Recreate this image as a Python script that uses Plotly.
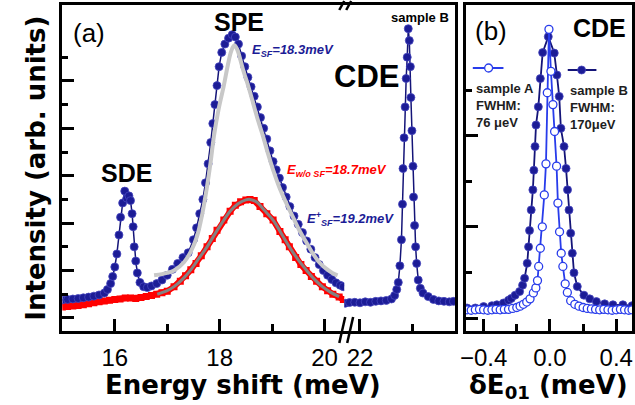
import plotly.graph_objects as go

# ---------------- data: panel (a), left segment ----------------
blue_x = [15.00, 15.10, 15.20, 15.30, 15.40, 15.50, 15.60, 15.70, 15.80, 15.86,
          15.92, 15.96, 16.00, 16.04, 16.08, 16.11, 16.15, 16.19, 16.23, 16.27,
          16.30, 16.33, 16.35, 16.37, 16.40, 16.43, 16.48, 16.55, 16.62, 16.70,
          16.80, 16.90, 17.00, 17.10, 17.20, 17.30, 17.40, 17.50, 17.56, 17.62,
          17.68, 17.73, 17.78, 17.83, 17.87, 17.91, 17.95, 17.99, 18.04, 18.10,
          18.17, 18.24, 18.30, 18.36, 18.42, 18.48, 18.54, 18.60, 18.66, 18.72,
          18.78, 18.84, 18.90, 18.96, 19.02, 19.08, 19.14, 19.20, 19.27, 19.34,
          19.42, 19.50, 19.58, 19.66, 19.74, 19.82, 19.90, 19.98, 20.06, 20.14,
          20.22, 20.30, 20.36]
blue_y = [0.76, 0.78, 0.80, 0.82, 0.85, 0.88, 0.92, 0.97, 1.05, 1.20,
          1.45, 1.75, 2.15, 2.70, 3.50, 4.25, 4.85, 5.35, 5.05, 5.15,
          4.95, 4.40, 3.85, 3.00, 2.40, 1.90, 1.50, 1.32, 1.28, 1.35,
          1.45, 1.60, 1.80, 2.05, 2.30, 2.55, 2.75, 3.30, 3.80, 4.40,
          5.00, 5.70, 6.50, 7.40, 8.20, 9.00, 9.80, 10.60, 11.20, 11.55,
          11.80, 11.95, 11.85, 11.55, 11.05, 10.60, 10.15, 9.75, 9.35, 8.90,
          8.45, 8.00, 7.55, 7.05, 6.60, 6.25, 5.90, 5.50, 5.10, 4.70,
          4.30, 3.95, 3.60, 3.25, 2.90, 2.55, 2.25, 2.00, 1.80, 1.62,
          1.48, 1.38, 1.32]

blue_fit_x = [16.75, 16.90, 17.00, 17.13, 17.32, 17.45, 17.57, 17.67, 17.76, 17.83,
              17.89, 17.98, 18.08, 18.16, 18.22, 18.28, 18.34, 18.40, 18.45, 18.55,
              18.64, 18.73, 18.83, 18.92, 19.02, 19.14, 19.27, 19.40, 19.52, 19.65,
              19.77, 19.90, 20.02, 20.15, 20.25]
blue_fit_y = [1.80, 1.85, 1.90, 2.00, 2.35, 2.80, 3.45, 4.40, 5.55, 6.60,
              7.65, 8.80, 9.80, 10.70, 11.25, 11.50, 11.30, 10.85, 10.45, 9.75,
              9.05, 8.35, 7.65, 6.95, 6.25, 5.50, 4.85, 4.25, 3.70, 3.20,
              2.75, 2.35, 2.10, 1.90, 1.80]

red_x = [15.00, 15.10, 15.20, 15.30, 15.40, 15.50, 15.60, 15.70, 15.80, 15.90,
         16.00, 16.10, 16.20, 16.30, 16.40, 16.50, 16.60, 16.70, 16.80, 16.90,
         17.00, 17.13, 17.25, 17.35, 17.45, 17.55, 17.65, 17.76, 17.86, 17.95,
         18.08, 18.20, 18.30, 18.40, 18.50, 18.58, 18.66, 18.77, 18.90, 19.02,
         19.15, 19.25, 19.33, 19.45, 19.55, 19.65, 19.75, 19.85, 19.96, 20.06,
         20.16, 20.28, 20.36]
red_y = [0.46, 0.48, 0.50, 0.53, 0.56, 0.60, 0.64, 0.68, 0.72, 0.75,
         0.78, 0.80, 0.84, 0.84, 0.82, 0.86, 0.90, 0.95, 1.00, 1.06,
         1.13, 1.32, 1.55, 1.78, 2.03, 2.30, 2.62, 3.00, 3.35, 3.70,
         4.13, 4.50, 4.75, 4.90, 4.98, 5.00, 4.95, 4.70, 4.40, 4.13,
         3.65, 3.30, 3.00, 2.55, 2.25, 2.00, 1.75, 1.55, 1.32, 1.15,
         1.00, 0.88, 0.78]

red_fit_x = [16.81, 17.00, 17.13, 17.30, 17.45, 17.60, 17.76, 17.92, 18.08, 18.20,
             18.35, 18.50, 18.58, 18.70, 18.85, 19.02, 19.18, 19.33, 19.50, 19.65,
             19.80, 19.96, 20.12, 20.28]
red_fit_y = [1.00, 1.15, 1.32, 1.65, 2.03, 2.50, 3.00, 3.58, 4.13, 4.50,
             4.82, 4.98, 5.00, 4.90, 4.55, 4.13, 3.55, 3.00, 2.45, 2.03,
             1.65, 1.32, 1.08, 0.90]

# ---------------- data: panel (a), right segment (CDE, sample B) ----------------
cde_x = [21.72, 21.80, 21.90, 22.00, 22.10, 22.20, 22.30, 22.40, 22.50, 22.60,
         22.66, 22.70, 22.73, 22.76, 22.79, 22.81, 22.82, 22.84, 22.86, 22.88,
         22.90, 22.92, 22.94, 22.96, 22.97, 22.99, 23.01, 23.02, 23.04, 23.06,
         23.08, 23.11, 23.15, 23.20, 23.30, 23.40, 23.50, 23.60, 23.70, 23.78]
cde_y = [0.62, 0.65, 0.66, 0.64, 0.68, 0.66, 0.70, 0.72, 0.74, 0.80,
         0.95, 1.20, 1.50, 2.20, 3.30, 4.80, 6.30, 7.60, 8.90, 10.10,
         11.00, 12.20, 11.70, 10.60, 9.30, 7.90, 6.40, 5.10, 3.90, 3.00,
         2.30, 1.60, 1.25, 1.05, 0.90, 0.78, 0.72, 0.70, 0.68, 0.70]

# ---------------- data: panel (b) ----------------
a_x = [-0.500, -0.475, -0.450, -0.425, -0.400, -0.375, -0.350, -0.325, -0.300, -0.275,
       -0.250, -0.225, -0.200, -0.180, -0.160, -0.140, -0.120, -0.100, -0.085, -0.075,
       -0.068, -0.058, -0.046, -0.034, -0.024, -0.016, -0.006, 0.006, 0.018, 0.028,
       0.040, 0.048, 0.058, 0.068, 0.078, 0.092, 0.105, 0.125, 0.150, 0.175,
       0.200, 0.225, 0.250, 0.275, 0.300, 0.325, 0.350, 0.375, 0.400, 0.425,
       0.450, 0.475, 0.495]
a_y = [0.18, 0.17, 0.18, 0.19, 0.18, 0.17, 0.18, 0.19, 0.18, 0.19,
       0.19, 0.21, 0.23, 0.26, 0.30, 0.35, 0.42, 0.55, 0.66, 0.82,
       1.13, 1.53, 2.00, 2.70, 3.38, 4.94, 6.33, 5.41, 4.68, 4.09,
       3.33, 2.52, 1.89, 1.42, 1.13, 0.75, 0.56, 0.38, 0.30, 0.26,
       0.23, 0.21, 0.20, 0.19, 0.18, 0.19, 0.18, 0.17, 0.18, 0.19,
       0.18, 0.17, 0.18]

b_x = [-0.500, -0.450, -0.400, -0.350, -0.320, -0.280, -0.250, -0.233, -0.210, -0.183,
       -0.165, -0.153, -0.137, -0.129, -0.123, -0.113, -0.103, -0.097, -0.090, -0.084,
       -0.070, -0.058, -0.044, -0.010, 0.026, 0.042, 0.056, 0.066, 0.085, 0.097,
       0.106, 0.115, 0.125, 0.135, 0.145, 0.165, 0.205, 0.240, 0.280, 0.330,
       0.380, 0.440, 0.495]
b_y = [0.22, 0.22, 0.25, 0.27, 0.29, 0.33, 0.39, 0.43, 0.50, 0.58,
       0.72, 0.87, 1.20, 1.56, 1.92, 2.37, 2.81, 3.24, 3.76, 4.23,
       4.63, 5.25, 5.82, 6.17, 5.81, 5.33, 4.86, 4.16, 3.76, 3.28,
       2.81, 2.37, 1.86, 1.42, 0.99, 0.69, 0.50, 0.42, 0.36, 0.31,
       0.29, 0.29, 0.27]

# tick values
a_left_major = [16, 18, 20]
a_left_minor = [17, 19]
a_right_major = [22]
a_right_minor = [23]
a_y_major = [0, 2, 4, 6, 8, 10]
a_y_minor = [1, 3, 5, 7, 9, 11]
b_x_major = [-0.4, 0.0, 0.4]
b_x_labels = ["\u22120.4", "0.0", "0.4"]
b_x_minor = [-0.2, 0.2]
b_y_major = [0, 2, 4]
b_y_minor = [1, 3, 5]

# ---------------- styling ----------------
W, H = 635, 405
NAVY = "rgb(28,28,150)"
NAVY_LINE = "rgb(20,20,120)"
BLUE_A = "rgb(40,60,235)"
RED = "rgb(255,0,0)"
TICKFONT = dict(family="Liberation Sans, Arial", size=24, color="black")


def px(v):
    return v / W


def py(v):
    return 1 - v / H


fig = go.Figure()

blue_style = dict(mode="lines+markers",
                  line=dict(color=NAVY_LINE, width=1.5),
                  marker=dict(size=8, color=NAVY, line=dict(color="rgb(70,70,190)", width=0.8)),
                  showlegend=False, hoverinfo="skip")

# panel (a) left segment
fig.add_trace(go.Scatter(x=red_x, y=red_y, xaxis="x", yaxis="y", mode="lines+markers",
                         line=dict(color=RED, width=6), marker=dict(size=7, color=RED, symbol="square"),
                         showlegend=False))
fig.add_trace(go.Scatter(x=red_fit_x, y=red_fit_y, xaxis="x", yaxis="y", mode="lines",
                         line=dict(color="rgb(130,130,130)", width=3), line_shape="spline",
                         showlegend=False))
fig.add_trace(go.Scatter(x=blue_x, y=blue_y, xaxis="x", yaxis="y", **blue_style))
fig.add_trace(go.Scatter(x=blue_fit_x, y=blue_fit_y, xaxis="x", yaxis="y", mode="lines",
                         line=dict(color="rgb(200,200,200)", width=4), line_shape="spline",
                         showlegend=False))
# panel (a) right segment
fig.add_trace(go.Scatter(x=cde_x, y=cde_y, xaxis="x2", yaxis="y2", **blue_style))

# panel (b)
fig.add_trace(go.Scatter(x=b_x, y=b_y, xaxis="x3", yaxis="y3", mode="lines+markers",
                         line=dict(color=NAVY_LINE, width=1.8),
                         marker=dict(size=8, color=NAVY, line=dict(color="rgb(70,70,190)", width=0.8)),
                         showlegend=False))
fig.add_trace(go.Scatter(x=a_x, y=a_y, xaxis="x3", yaxis="y3", mode="lines+markers",
                         line=dict(color=BLUE_A, width=1.8),
                         marker=dict(size=8, color="white", line=dict(color=BLUE_A, width=1.3)),
                         showlegend=False))

ydom = [py(331), py(5)]
axis_common = dict(showline=True, linecolor="black", linewidth=3, showgrid=False, zeroline=False,
                   ticks="inside", tickcolor="black", tickwidth=3, ticklen=12,
                   tickfont=TICKFONT)

fig.update_layout(
    width=W, height=H, margin=dict(l=0, r=0, t=0, b=0),
    paper_bgcolor="white", plot_bgcolor="white",
    xaxis=dict(domain=[px(57), px(342)], anchor="y", range=[15.0, 20.377], mirror=True,
               tickmode="array", tickvals=a_left_major, ticklabelstandoff=3,
               minor=dict(tickmode="array", tickvals=a_left_minor, ticks="inside", ticklen=7,
                          tickwidth=3, tickcolor="black", showgrid=False),
               **axis_common),
    xaxis2=dict(domain=[px(342), px(454)], anchor="y2", range=[21.70, 23.81], mirror=True,
                tickmode="array", tickvals=a_right_major, ticklabelstandoff=3,
                minor=dict(tickmode="array", tickvals=a_right_minor, ticks="inside", ticklen=7,
                           tickwidth=3, tickcolor="black", showgrid=False),
                **axis_common),
    yaxis=dict(domain=ydom, anchor="x", range=[-0.55, 13.2], showticklabels=False,
               tickmode="array", tickvals=a_y_major,
               minor=dict(tickmode="array", tickvals=a_y_minor, ticks="inside", ticklen=6,
                          tickwidth=3, tickcolor="black", showgrid=False),
               **axis_common),
    yaxis2=dict(domain=ydom, anchor="x2", range=[-0.55, 13.2], side="right",
                showline=True, linecolor="black", linewidth=3, showgrid=False, zeroline=False,
                ticks="", showticklabels=False),
    xaxis3=dict(domain=[px(465), px(633)], anchor="y3", range=[-0.507, 0.495], mirror=True,
                tickmode="array", tickvals=b_x_major, ticktext=b_x_labels, ticklabelstandoff=3,
                minor=dict(tickmode="array", tickvals=b_x_minor, ticks="inside", ticklen=7,
                           tickwidth=3, tickcolor="black", showgrid=False),
                **axis_common),
    yaxis3=dict(domain=ydom, anchor="x3", range=[-0.285, 6.864], mirror=True, showticklabels=False,
                tickmode="array", tickvals=b_y_major,
                minor=dict(tickmode="array", tickvals=b_y_minor, ticks="inside", ticklen=6,
                           tickwidth=3, tickcolor="black", showgrid=False),
                **axis_common),
)

ann = []
def A(text, x, y, size, bold=False, color="black", family="Liberation Sans, Arial",
      xanchor="center", yanchor="middle", angle=0, align="center"):
    ann.append(dict(text=text, x=px(x), y=py(y), xref="paper", yref="paper", showarrow=False,
                    xanchor=xanchor, yanchor=yanchor, textangle=angle, align=align,
                    font=dict(size=size, color=color, family=family,
                              weight="bold" if bold else "normal")))

A("(a)", 84, 33, 26)
A("SPE", 236, 22, 25, bold=True)
A("SDE", 122, 173, 25, bold=True)
A("CDE", 365, 76, 31, bold=True)
A("sample B", 419, 18, 13, bold=True)
A("<i>E<sub>SF</sub>=18.3meV</i>", 247, 50, 13, bold=True, color=NAVY, xanchor="left")
A("<i>E<sub>w/o SF</sub>=18.7meV</i>", 282, 170, 13, bold=True, color=RED, xanchor="left")
A("<i>E<sup>+</sup><sub>SF</sub>=19.2meV</i>", 302, 219, 13, bold=True, color=NAVY, xanchor="left")
A("(b)", 490, 31, 26)
A("CDE", 600, 28, 25, bold=True)
A("sample A<br>FWHM:<br>76 \u03bceV", 473, 79, 13, bold=True, color="rgb(30,30,30)",
  xanchor="left", yanchor="top", align="left")
A("sample B<br>FWHM:<br>170\u03bceV", 568, 81, 13, bold=True, color="rgb(30,30,30)",
  xanchor="left", yanchor="top", align="left")
# axis titles
A("Intensity (arb. units)", 30, 168, 26, bold=True, family="DejaVu Sans", angle=-90)
A("Energy shift (meV)", 240, 385, 26, bold=True, family="DejaVu Sans")
A("\u03b4E<sub>01</sub> (meV)", 549, 386, 26, bold=True, family="DejaVu Sans")
fig.update_layout(annotations=ann)

shapes = []
# axis break marks
for (x0, y0, x1, y1) in [(337, 343, 343, 317), (345, 343, 351, 317), (337, 10, 342, 1), (344, 10, 349, 1)]:
    shapes.append(dict(type="line", xref="paper", yref="paper", x0=px(x0), y0=py(y0), x1=px(x1), y1=py(y1),
                       line=dict(color="black", width=2.5)))
# legend glyphs in panel (b)
shapes.append(dict(type="line", xref="paper", yref="paper", x0=px(472), y0=py(68), x1=px(503), y1=py(68),
                   line=dict(color=BLUE_A, width=2)))
shapes.append(dict(type="circle", xref="paper", yref="paper", x0=px(484), y0=py(72), x1=px(492), y1=py(64),
                   fillcolor="white", line=dict(color=BLUE_A, width=1.3)))
shapes.append(dict(type="line", xref="paper", yref="paper", x0=px(568), y0=py(70), x1=px(597), y1=py(70),
                   line=dict(color=NAVY_LINE, width=2)))
shapes.append(dict(type="circle", xref="paper", yref="paper", x0=px(578), y0=py(74), x1=px(586), y1=py(66),
                   fillcolor=NAVY, line=dict(color="rgb(70,70,190)", width=0.8)))
fig.update_layout(shapes=shapes)

fig.write_html("out.html", config={"displayModeBar": False},
               post_script="document.body.style.margin='0';document.body.style.padding='0';"
                           "document.body.style.overflow='hidden';")
